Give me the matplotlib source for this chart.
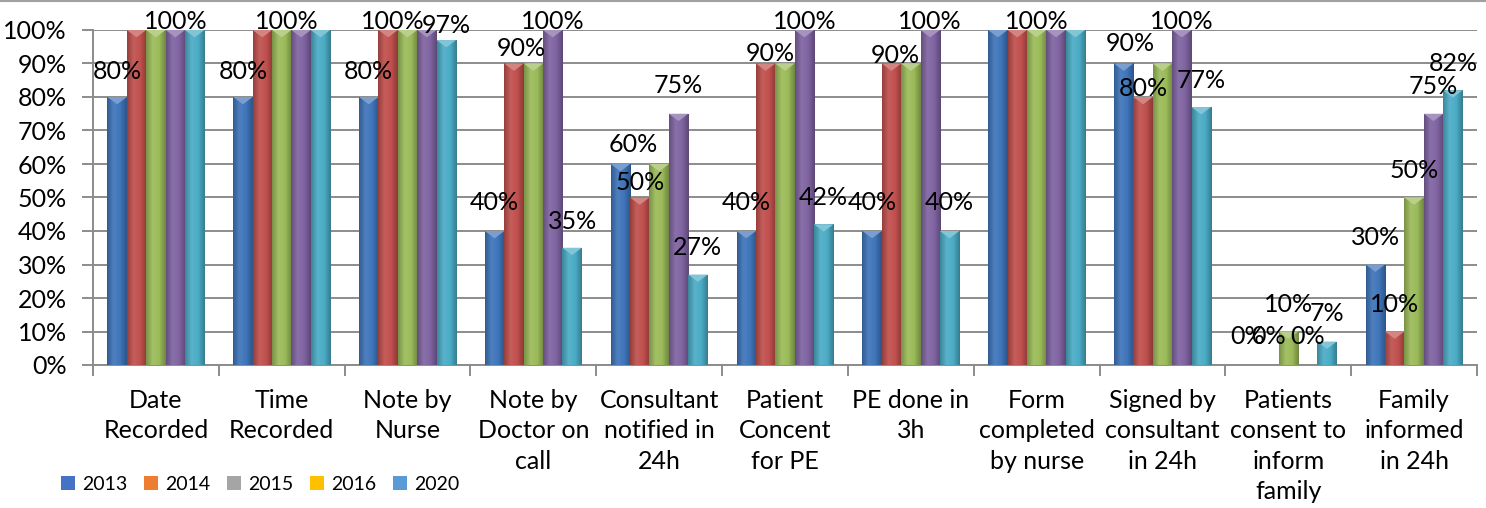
import numpy as np
import matplotlib
matplotlib.use("Agg")
import matplotlib.pyplot as plt
from matplotlib.patches import Patch, Polygon
from matplotlib.colors import LinearSegmentedColormap, to_rgb

plt.rcParams['font.family'] = ['Lato', 'DejaVu Sans']

# data
categories = ["Date\nRecorded", "Time\nRecorded", "Note by\nNurse", "Note by\nDoctor on\ncall",
              "Consultant\nnotified in\n24h", "Patient\nConcent\nfor PE", "PE done in\n3h",
              "Form\ncompleted\nby nurse", "Signed by\nconsultant\nin 24h",
              "Patients\nconsent to\ninform\nfamily", "Family\ninformed\nin 24h"]
years = ["2013", "2014", "2015", "2016", "2020"]
v2013 = [80, 80, 80, 40, 60, 40, 40, 100, 90, 0, 30]
v2014 = [100, 100, 100, 90, 50, 90, 90, 100, 80, 0, 10]
v2015 = [100, 100, 100, 90, 60, 90, 90, 100, 90, 10, 50]
v2016 = [100, 100, 100, 100, 75, 100, 100, 100, 100, 0, 75]
v2020 = [100, 100, 97, 35, 27, 42, 40, 100, 77, 7, 82]
series = [v2013, v2014, v2015, v2016, v2020]

# bar colours and (odd) legend colours as in the original
bar_colors = ["#3F75BA", "#C0504D", "#9BBB59", "#8064A2", "#4BACC6"]
legend_colors = ["#4472C4", "#ED7D31", "#A5A5A5", "#FFC000", "#5B9BD5"]

# which labels are shown: (category, series, dx px, dy px above bar top)
labels_shown = [
    (0, 0, 0, 25), (0, 3, 0, 8),
    (1, 0, 0, 25), (1, 2, 5, 8),
    (2, 0, 0, 25), (2, 2, -15, 8), (2, 4, 0, 15),
    (3, 0, 0, 28), (3, 1, 7, 15), (3, 3, 0, 8), (3, 4, 0, 26),
    (4, 0, 13, 19), (4, 1, 0, 15), (4, 3, 0, 28), (4, 4, 0, 27),
    (5, 0, 0, 28), (5, 1, 5, 10), (5, 3, 0, 8), (5, 4, 0, 27),
    (6, 0, 0, 28), (6, 1, 4, 8), (6, 3, 0, 8), (6, 4, 0, 28),
    (7, 2, 0, 8),
    (8, 0, 7, 20), (8, 1, 0, 8), (8, 3, 0, 8), (8, 4, 0, 27),
    (9, 0, -2, 28), (9, 1, 0, 28), (9, 2, 0, 27), (9, 3, 0, 28), (9, 4, 0, 28),
    (10, 0, 0, 27), (10, 1, 0, 27), (10, 2, 0, 27), (10, 3, 0, 27), (10, 4, 0, 27),
]

W, H = 1486, 508
fig = plt.figure(figsize=(W / 100, H / 100), dpi=100)
ax = fig.add_axes([93 / W, (H - 365) / H, (1477 - 93) / W, (365 - 30) / H])

x = np.arange(len(categories))
bw = 0.154
grid_c = "#8C8C8C"

def shade(c, f):
    r = np.array(to_rgb(c))
    if f >= 1:
        return tuple(r + (1 - r) * (f - 1))
    return tuple(r * f)

bars_all = []
for j, vals in enumerate(series):
    pos = x + (j - 2) * bw
    bars = ax.bar(pos, vals, width=bw, color=bar_colors[j], edgecolor="none", zorder=3)
    bars_all.append(bars)
    c = bar_colors[j]
    cmap = LinearSegmentedColormap.from_list("g%d" % j, [shade(c, 0.78), shade(c, 1.08), shade(c, 1.0), shade(c, 0.72)])
    grad = np.linspace(0, 1, 64).reshape(1, -1)
    for rect in bars:
        bx, bwid, bh = rect.get_x(), rect.get_width(), rect.get_height()
        if bh <= 0:
            continue
        im = ax.imshow(grad, extent=[bx, bx + bwid, 0, bh], aspect="auto", cmap=cmap,
                       zorder=3.5, interpolation="bilinear")
        im.set_clip_path(rect)
        tri = Polygon([[bx, bh], [bx + bwid, bh], [bx + bwid / 2, bh - 2.2]],
                      closed=True, facecolor=shade(c, 1.3), edgecolor="none", zorder=4)
        ax.add_patch(tri)

for (ci, sj, dx, dy) in labels_shown:
    rect = bars_all[sj][ci]
    cx = rect.get_x() + rect.get_width() / 2
    val = series[sj][ci]
    ax.annotate("%d%%" % val, xy=(cx, val), xytext=(dx * 0.72, dy * 0.72),
                textcoords="offset points", ha="center", va="center",
                fontsize=18, color="black", zorder=6)

ax.set_xlim(-0.5, len(categories) - 0.5)
ax.set_ylim(0, 100)
ax.set_yticks(np.arange(0, 101, 10))
ax.set_yticklabels(["%d%%" % t for t in range(0, 101, 10)])
ax.yaxis.grid(True, color=grid_c, linewidth=1.4, zorder=0)
ax.set_axisbelow(True)

ax.set_xticks(x)
ax.set_xticklabels(categories, fontsize=18, linespacing=1.4, va="top")
ax.set_xticks(np.arange(-0.5, len(categories)), minor=True)
ax.tick_params(axis="x", which="major", length=0, pad=17)
ax.tick_params(axis="x", which="minor", length=8, width=1.4, color=grid_c, direction="out")
ax.tick_params(axis="y", length=8, width=1.4, color=grid_c, direction="out", labelsize=18, pad=11)

for s in ["top", "right"]:
    ax.spines[s].set_visible(False)
for s in ["left", "bottom"]:
    ax.spines[s].set_color(grid_c)
    ax.spines[s].set_linewidth(1.4)

handles = [Patch(facecolor=legend_colors[i], edgecolor="none", label=years[i]) for i in range(5)]
fig.legend(handles=handles, loc="center left", bbox_to_anchor=(43 / W, 1 - 484 / H), ncol=5,
           frameon=False, fontsize=14, handlelength=0.75, handleheight=0.75,
           handletextpad=0.35, columnspacing=0.85)

fig.add_artist(plt.Line2D([0, 1], [1 - 1 / H, 1 - 1 / H], transform=fig.transFigure, color="#A0A0A0", lw=1.5))

fig.savefig("out.png", dpi=100)
